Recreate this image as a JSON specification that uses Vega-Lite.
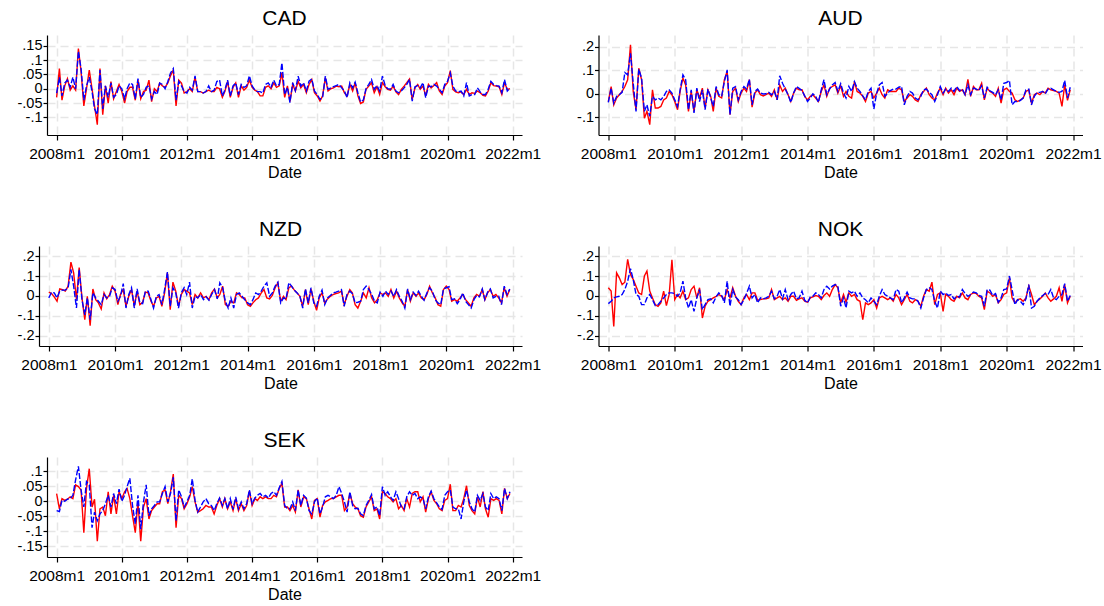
{
"$schema": "https://vega.github.io/schema/vega-lite/v6.json",
"background": "white",
"padding": {"left": 16, "top": 8, "right": 2, "bottom": 2},
"columns": 1,
"spacing": 38,
"datasets": {
"CAD": [
{"d":"2008-01","r":-0.03,"b":-0.015},{"d":"2008-02","r":0.07,"b":0.04},{"d":"2008-03","r":-0.04,"b":-0.025},{"d":"2008-04","r":0.01,"b":0.02},{"d":"2008-05","r":0.035,"b":0.03},{"d":"2008-06","r":-0.005,"b":0.005},{"d":"2008-07","r":0.01,"b":0.04},{"d":"2008-08","r":-0.005,"b":0},{"d":"2008-09","r":0.14,"b":0.13},{"d":"2008-10","r":0.06,"b":0.07},{"d":"2008-11","r":-0.06,"b":-0.04},{"d":"2008-12","r":0,"b":0.01},
{"d":"2009-01","r":0.065,"b":0.04},{"d":"2009-02","r":0,"b":-0.01},{"d":"2009-03","r":-0.06,"b":-0.07},{"d":"2009-04","r":-0.125,"b":-0.09},{"d":"2009-05","r":0.07,"b":0.065},{"d":"2009-06","r":-0.09,"b":-0.07},{"d":"2009-07","r":0.01,"b":0.01},{"d":"2009-08","r":-0.05,"b":-0.03},{"d":"2009-09","r":0.025,"b":0.02},{"d":"2009-10","r":-0.035,"b":-0.03},{"d":"2009-11","r":-0.01,"b":-0.02},{"d":"2009-12","r":0.015,"b":0.01},
{"d":"2010-01","r":-0.01,"b":0},{"d":"2010-02","r":-0.05,"b":-0.035},{"d":"2010-03","r":-0.01,"b":0},{"d":"2010-04","r":0.005,"b":0.02},{"d":"2010-05","r":0.005,"b":0.015},{"d":"2010-06","r":-0.04,"b":-0.035},{"d":"2010-07","r":0.03,"b":0.035},{"d":"2010-08","r":-0.035,"b":-0.03},{"d":"2010-09","r":-0.01,"b":-0.02},{"d":"2010-10","r":-0.005,"b":0.005},{"d":"2010-11","r":0.03,"b":0.01},{"d":"2010-12","r":-0.045,"b":-0.035},
{"d":"2011-01","r":0,"b":-0.01},{"d":"2011-02","r":-0.01,"b":-0.02},{"d":"2011-03","r":0.02,"b":0.02},{"d":"2011-04","r":0.01,"b":0.015},{"d":"2011-05","r":0.005,"b":0},{"d":"2011-06","r":0.02,"b":0.025},{"d":"2011-07","r":0.045,"b":0.055},{"d":"2011-08","r":0.065,"b":0.07},{"d":"2011-09","r":-0.06,"b":-0.04},{"d":"2011-10","r":0.03,"b":0.025},{"d":"2011-11","r":0.02,"b":0.01},{"d":"2011-12","r":-0.015,"b":-0.01},
{"d":"2012-01","r":-0.01,"b":-0.015},{"d":"2012-02","r":0,"b":0.005},{"d":"2012-03","r":-0.01,"b":-0.005},{"d":"2012-04","r":0.04,"b":0.045},{"d":"2012-05","r":-0.01,"b":-0.01},{"d":"2012-06","r":-0.01,"b":-0.01},{"d":"2012-07","r":-0.015,"b":-0.015},{"d":"2012-08","r":-0.01,"b":-0.01},{"d":"2012-09","r":-0.005,"b":0.01},{"d":"2012-10","r":-0.01,"b":-0.01},{"d":"2012-11","r":-0.01,"b":-0.005},{"d":"2012-12","r":0.005,"b":0.025},
{"d":"2013-01","r":0,"b":0.03},{"d":"2013-02","r":-0.03,"b":-0.025},{"d":"2013-03","r":-0.01,"b":-0.005},{"d":"2013-04","r":0.025,"b":0.03},{"d":"2013-05","r":-0.03,"b":-0.025},{"d":"2013-06","r":0.005,"b":0.01},{"d":"2013-07","r":0.02,"b":0.02},{"d":"2013-08","r":-0.03,"b":-0.02},{"d":"2013-09","r":0.01,"b":0.015},{"d":"2013-10","r":-0.005,"b":0.005},{"d":"2013-11","r":0.005,"b":0.01},{"d":"2013-12","r":0.03,"b":0.045},
{"d":"2014-01","r":0.005,"b":0.01},{"d":"2014-02","r":-0.005,"b":-0.005},{"d":"2014-03","r":-0.01,"b":-0.01},{"d":"2014-04","r":-0.025,"b":-0.01},{"d":"2014-05","r":-0.025,"b":-0.015},{"d":"2014-06","r":0.005,"b":0.015},{"d":"2014-07","r":0.01,"b":0.02},{"d":"2014-08","r":0,"b":0.005},{"d":"2014-09","r":0.02,"b":0.03},{"d":"2014-10","r":0.005,"b":0.01},{"d":"2014-11","r":0.01,"b":0.015},{"d":"2014-12","r":0.055,"b":0.09},
{"d":"2015-01","r":-0.03,"b":-0.02},{"d":"2015-02","r":0.01,"b":0.005},{"d":"2015-03","r":-0.045,"b":-0.048},{"d":"2015-04","r":0.015,"b":0.021},{"d":"2015-05","r":-0.008,"b":-0.006},{"d":"2015-06","r":0.026,"b":0.044},{"d":"2015-07","r":0.003,"b":0.009},{"d":"2015-08","r":0.015,"b":0.021},{"d":"2015-09","r":-0.014,"b":-0.008},{"d":"2015-10","r":0.015,"b":0.026},{"d":"2015-11","r":0.032,"b":0.034},{"d":"2015-12","r":-0.014,"b":-0.008},
{"d":"2016-01","r":-0.025,"b":-0.02},{"d":"2016-02","r":-0.043,"b":-0.037},{"d":"2016-03","r":-0.025,"b":-0.031},{"d":"2016-04","r":0.038,"b":0.044},{"d":"2016-05","r":-0.008,"b":-0.002},{"d":"2016-06","r":0,"b":0.003},{"d":"2016-07","r":0.003,"b":0.007},{"d":"2016-08","r":0.009,"b":0.011},{"d":"2016-09","r":0.007,"b":0.015},{"d":"2016-10","r":0.009,"b":0.003},{"d":"2016-11","r":-0.014,"b":-0.008},{"d":"2016-12","r":-0.025,"b":-0.031},
{"d":"2017-01","r":0.015,"b":0.021},{"d":"2017-02","r":-0.008,"b":0.003},{"d":"2017-03","r":0.021,"b":0.023},{"d":"2017-04","r":-0.025,"b":-0.014},{"d":"2017-05","r":-0.051,"b":-0.046},{"d":"2017-06","r":-0.046,"b":-0.039},{"d":"2017-07","r":-0.002,"b":0},{"d":"2017-08","r":0.009,"b":0.015},{"d":"2017-09","r":0.021,"b":0.032},{"d":"2017-10","r":-0.014,"b":-0.002},{"d":"2017-11","r":0.007,"b":0.011},{"d":"2017-12","r":-0.02,"b":-0.008},
{"d":"2018-01","r":0.021,"b":0.044},{"d":"2018-02","r":0.007,"b":0.011},{"d":"2018-03","r":-0.002,"b":0},{"d":"2018-04","r":-0.005,"b":-0.002},{"d":"2018-05","r":0.009,"b":0.015},{"d":"2018-06","r":-0.011,"b":-0.008},{"d":"2018-07","r":-0.02,"b":-0.014},{"d":"2018-08","r":-0.002,"b":-0.008},{"d":"2018-09","r":0.009,"b":0.003},{"d":"2018-10","r":0.021,"b":0.015},{"d":"2018-11","r":0.034,"b":0.032},{"d":"2018-12","r":-0.037,"b":-0.043},
{"d":"2019-01","r":0.003,"b":0.007},{"d":"2019-02","r":0.015,"b":0.011},{"d":"2019-03","r":-0.002,"b":0.003},{"d":"2019-04","r":0.009,"b":0.021},{"d":"2019-05","r":-0.025,"b":-0.031},{"d":"2019-06","r":0.015,"b":0.009},{"d":"2019-07","r":0.003,"b":0.007},{"d":"2019-08","r":0.011,"b":0.015},{"d":"2019-09","r":0.021,"b":0.009},{"d":"2019-10","r":-0.008,"b":-0.002},{"d":"2019-11","r":-0.02,"b":-0.014},{"d":"2019-12","r":0.009,"b":0.015},
{"d":"2020-01","r":0.021,"b":0.026},{"d":"2020-02","r":0.063,"b":0.055},{"d":"2020-03","r":-0.002,"b":0.009},{"d":"2020-04","r":-0.011,"b":-0.008},{"d":"2020-05","r":-0.014,"b":-0.011},{"d":"2020-06","r":-0.011,"b":-0.008},{"d":"2020-07","r":-0.02,"b":-0.025},{"d":"2020-08","r":-0.002,"b":0.021},{"d":"2020-09","r":-0.02,"b":-0.025},{"d":"2020-10","r":-0.014,"b":-0.02},{"d":"2020-11","r":-0.016,"b":-0.02},{"d":"2020-12","r":-0.008,"b":0.003},
{"d":"2021-01","r":-0.014,"b":-0.011},{"d":"2021-02","r":-0.023,"b":-0.02},{"d":"2021-03","r":-0.025,"b":-0.02},{"d":"2021-04","r":-0.008,"b":-0.002},{"d":"2021-05","r":0.021,"b":0.026},{"d":"2021-06","r":0.011,"b":0.015},{"d":"2021-07","r":0.009,"b":0.011},{"d":"2021-08","r":0.007,"b":0.009},{"d":"2021-09","r":-0.02,"b":-0.014},{"d":"2021-10","r":0.021,"b":0.032},{"d":"2021-11","r":-0.002,"b":-0.008},{"d":"2021-12","r":0,"b":0.003}
],
"AUD": [
{"d":"2008-01","r":-0.033,"b":-0.037},{"d":"2008-02","r":0.031,"b":0.024},{"d":"2008-03","r":-0.047,"b":-0.04},{"d":"2008-04","r":-0.018,"b":-0.011},{"d":"2008-05","r":-0.004,"b":-0.004},{"d":"2008-06","r":0.01,"b":0.006},{"d":"2008-07","r":0.031,"b":0.091},{"d":"2008-08","r":0.06,"b":0.081},{"d":"2008-09","r":0.209,"b":0.173},{"d":"2008-10","r":0.01,"b":0.045},{"d":"2008-11","r":-0.068,"b":-0.075},{"d":"2008-12","r":0.109,"b":0.105},
{"d":"2009-01","r":0.06,"b":0.067},{"d":"2009-02","r":-0.104,"b":-0.075},{"d":"2009-03","r":-0.075,"b":-0.047},{"d":"2009-04","r":-0.132,"b":-0.096},{"d":"2009-05","r":0.017,"b":-0.011},{"d":"2009-06","r":-0.061,"b":-0.026},{"d":"2009-07","r":-0.061,"b":-0.018},{"d":"2009-08","r":-0.054,"b":-0.026},{"d":"2009-09","r":-0.026,"b":-0.011},{"d":"2009-10","r":-0.018,"b":0.01},{"d":"2009-11","r":0.01,"b":0.017},{"d":"2009-12","r":-0.004,"b":0.003},
{"d":"2010-01","r":-0.033,"b":-0.026},{"d":"2010-02","r":-0.068,"b":-0.054},{"d":"2010-03","r":0.01,"b":0.017},{"d":"2010-04","r":0.067,"b":0.081},{"d":"2010-05","r":0.038,"b":0.06},{"d":"2010-06","r":-0.075,"b":-0.068},{"d":"2010-07","r":0.01,"b":0.017},{"d":"2010-08","r":-0.075,"b":-0.082},{"d":"2010-09","r":0.017,"b":0.024},{"d":"2010-10","r":-0.018,"b":-0.033},{"d":"2010-11","r":0.024,"b":0.017},{"d":"2010-12","r":-0.061,"b":-0.068},
{"d":"2011-01","r":0.017,"b":0.02},{"d":"2011-02","r":-0.011,"b":-0.018},{"d":"2011-03","r":-0.075,"b":-0.054},{"d":"2011-04","r":0.024,"b":0.031},{"d":"2011-05","r":-0.011,"b":-0.004},{"d":"2011-06","r":-0.018,"b":-0.011},{"d":"2011-07","r":0.06,"b":0.052},{"d":"2011-08","r":0.095,"b":0.102},{"d":"2011-09","r":-0.089,"b":-0.089},{"d":"2011-10","r":0.01,"b":0.024},{"d":"2011-11","r":0.024,"b":0.031},{"d":"2011-12","r":-0.033,"b":-0.026},
{"d":"2012-01","r":0.003,"b":0.01},{"d":"2012-02","r":0.024,"b":0.031},{"d":"2012-03","r":0.01,"b":0.02},{"d":"2012-04","r":0.06,"b":0.062},{"d":"2012-05","r":-0.057,"b":-0.047},{"d":"2012-06","r":0.003,"b":0.01},{"d":"2012-07","r":0.017,"b":0.02},{"d":"2012-08","r":-0.004,"b":0.003},{"d":"2012-09","r":-0.009,"b":-0.001},{"d":"2012-10","r":-0.004,"b":0},{"d":"2012-11","r":0.003,"b":0.006},{"d":"2012-12","r":-0.011,"b":-0.004},
{"d":"2013-01","r":0.017,"b":0.01},{"d":"2013-02","r":-0.026,"b":-0.026},{"d":"2013-03","r":0.038,"b":0.077},{"d":"2013-04","r":0.01,"b":0.045},{"d":"2013-05","r":0.024,"b":0.02},{"d":"2013-06","r":-0.004,"b":-0.004},{"d":"2013-07","r":-0.033,"b":-0.037},{"d":"2013-08","r":0.003,"b":0.003},{"d":"2013-09","r":0.024,"b":0.031},{"d":"2013-10","r":0.017,"b":0.023},{"d":"2013-11","r":0.017,"b":0.014},{"d":"2013-12","r":-0.011,"b":-0.009},
{"d":"2014-01","r":-0.026,"b":-0.033},{"d":"2014-02","r":-0.011,"b":-0.018},{"d":"2014-03","r":-0.004,"b":0},{"d":"2014-04","r":-0.018,"b":-0.011},{"d":"2014-05","r":-0.033,"b":-0.037},{"d":"2014-06","r":0.01,"b":0.017},{"d":"2014-07","r":0.038,"b":0.06},{"d":"2014-08","r":-0.011,"b":-0.004},{"d":"2014-09","r":0.024,"b":0.02},{"d":"2014-10","r":0.031,"b":0.038},{"d":"2014-11","r":0.038,"b":0.048},{"d":"2014-12","r":0.003,"b":0.01},
{"d":"2015-01","r":0.034,"b":0.043},{"d":"2015-02","r":-0.011,"b":0.003},{"d":"2015-03","r":0.01,"b":-0.018},{"d":"2015-04","r":-0.011,"b":0.031},{"d":"2015-05","r":-0.018,"b":0.01},{"d":"2015-06","r":0.052,"b":0.052},{"d":"2015-07","r":0.01,"b":0.024},{"d":"2015-08","r":0.003,"b":0.01},{"d":"2015-09","r":-0.011,"b":-0.009},{"d":"2015-10","r":-0.033,"b":-0.026},{"d":"2015-11","r":0.003,"b":0.01},{"d":"2015-12","r":0.01,"b":0.024},
{"d":"2016-01","r":-0.018,"b":-0.065},{"d":"2016-02","r":0.003,"b":0.003},{"d":"2016-03","r":0.024,"b":0.038},{"d":"2016-04","r":-0.004,"b":0.048},{"d":"2016-05","r":-0.018,"b":-0.011},{"d":"2016-06","r":0.017,"b":0.003},{"d":"2016-07","r":0.01,"b":0.014},{"d":"2016-08","r":0.01,"b":0.02},{"d":"2016-09","r":0.01,"b":0.02},{"d":"2016-10","r":0.024,"b":0.028},{"d":"2016-11","r":0.017,"b":0.031},{"d":"2016-12","r":-0.033,"b":-0.047},
{"d":"2017-01","r":-0.018,"b":-0.011},{"d":"2017-02","r":-0.004,"b":0.01},{"d":"2017-03","r":-0.011,"b":0.003},{"d":"2017-04","r":-0.026,"b":-0.018},{"d":"2017-05","r":-0.033,"b":-0.026},{"d":"2017-06","r":-0.004,"b":-0.011},{"d":"2017-07","r":0.01,"b":0.017},{"d":"2017-08","r":0.024,"b":0.02},{"d":"2017-09","r":-0.004,"b":0.006},{"d":"2017-10","r":-0.018,"b":-0.004},{"d":"2017-11","r":-0.026,"b":-0.033},{"d":"2017-12","r":0.003,"b":-0.004},
{"d":"2018-01","r":0.024,"b":0.031},{"d":"2018-02","r":-0.004,"b":0.003},{"d":"2018-03","r":0.024,"b":0.02},{"d":"2018-04","r":0.003,"b":0.01},{"d":"2018-05","r":0.017,"b":0.024},{"d":"2018-06","r":-0.004,"b":0.01},{"d":"2018-07","r":0.024,"b":0.031},{"d":"2018-08","r":0.01,"b":0.014},{"d":"2018-09","r":0.017,"b":0.02},{"d":"2018-10","r":-0.004,"b":-0.004},{"d":"2018-11","r":0.062,"b":0.038},{"d":"2018-12","r":-0.011,"b":-0.004},
{"d":"2019-01","r":0.031,"b":0.024},{"d":"2019-02","r":0.017,"b":0.02},{"d":"2019-03","r":0.017,"b":0.014},{"d":"2019-04","r":0.045,"b":0.034},{"d":"2019-05","r":-0.026,"b":-0.018},{"d":"2019-06","r":0.024,"b":0.028},{"d":"2019-07","r":0.01,"b":0.013},{"d":"2019-08","r":0.003,"b":0.006},{"d":"2019-09","r":-0.011,"b":-0.004},{"d":"2019-10","r":0.024,"b":0.017},{"d":"2019-11","r":-0.04,"b":-0.026},{"d":"2019-12","r":0.017,"b":0.045},
{"d":"2020-01","r":0.024,"b":0.048},{"d":"2020-02","r":0.01,"b":0.057},{"d":"2020-03","r":0.003,"b":-0.047},{"d":"2020-04","r":-0.026,"b":-0.033},{"d":"2020-05","r":-0.033,"b":-0.033},{"d":"2020-06","r":-0.026,"b":-0.028},{"d":"2020-07","r":-0.018,"b":-0.018},{"d":"2020-08","r":0.01,"b":0.017},{"d":"2020-09","r":0.017,"b":0.02},{"d":"2020-10","r":-0.04,"b":-0.047},{"d":"2020-11","r":-0.004,"b":-0.011},{"d":"2020-12","r":0.003,"b":0.006},
{"d":"2021-01","r":-0.004,"b":0.006},{"d":"2021-02","r":0.01,"b":0.01},{"d":"2021-03","r":0.003,"b":0},{"d":"2021-04","r":0.024,"b":0.02},{"d":"2021-05","r":0.017,"b":0.024},{"d":"2021-06","r":0.014,"b":0.017},{"d":"2021-07","r":0.01,"b":0.01},{"d":"2021-08","r":0.003,"b":0.006},{"d":"2021-09","r":-0.054,"b":0.01},{"d":"2021-10","r":0.038,"b":0.057},{"d":"2021-11","r":-0.028,"b":-0.018},{"d":"2021-12","r":0.017,"b":0.028}
],
"NZD": [
{"d":"2008-01","r":0.019,"b":-0.01},{"d":"2008-02","r":0.012,"b":0.019},{"d":"2008-03","r":-0.005,"b":0.015},{"d":"2008-04","r":-0.027,"b":-0.01},{"d":"2008-05","r":0.035,"b":0.024},{"d":"2008-06","r":0.032,"b":0.029},{"d":"2008-07","r":0.024,"b":0.029},{"d":"2008-08","r":0.049,"b":0.041},{"d":"2008-09","r":0.17,"b":0.133},{"d":"2008-10","r":0.116,"b":0.049},{"d":"2008-11","r":-0.019,"b":-0.061},{"d":"2008-12","r":0.142,"b":0.133},
{"d":"2009-01","r":-0.01,"b":-0.019},{"d":"2009-02","r":-0.12,"b":-0.095},{"d":"2009-03","r":-0.002,"b":-0.01},{"d":"2009-04","r":-0.15,"b":-0.12},{"d":"2009-05","r":0.035,"b":0.015},{"d":"2009-06","r":-0.019,"b":-0.01},{"d":"2009-07","r":-0.035,"b":-0.027},{"d":"2009-08","r":-0.066,"b":-0.044},{"d":"2009-09","r":0.015,"b":0.007},{"d":"2009-10","r":-0.015,"b":-0.01},{"d":"2009-11","r":0.007,"b":-0.002},{"d":"2009-12","r":0.049,"b":0.041},
{"d":"2010-01","r":0.024,"b":0.032},{"d":"2010-02","r":-0.044,"b":-0.027},{"d":"2010-03","r":0.007,"b":-0.002},{"d":"2010-04","r":0.032,"b":0.062},{"d":"2010-05","r":-0.052,"b":-0.061},{"d":"2010-06","r":-0.002,"b":0.007},{"d":"2010-07","r":0.032,"b":0.041},{"d":"2010-08","r":-0.052,"b":-0.061},{"d":"2010-09","r":0.024,"b":0.035},{"d":"2010-10","r":-0.044,"b":-0.035},{"d":"2010-11","r":-0.032,"b":-0.039},{"d":"2010-12","r":0.019,"b":0.024},
{"d":"2011-01","r":0.015,"b":0.024},{"d":"2011-02","r":-0.027,"b":-0.019},{"d":"2011-03","r":-0.052,"b":-0.061},{"d":"2011-04","r":-0.01,"b":-0.002},{"d":"2011-05","r":-0.002,"b":0.007},{"d":"2011-06","r":-0.052,"b":-0.044},{"d":"2011-07","r":0.015,"b":0.032},{"d":"2011-08","r":0.116,"b":0.12},{"d":"2011-09","r":-0.069,"b":-0.052},{"d":"2011-10","r":0.069,"b":0.041},{"d":"2011-11","r":0.024,"b":0.015},{"d":"2011-12","r":-0.052,"b":-0.061},
{"d":"2012-01","r":0.007,"b":0.015},{"d":"2012-02","r":0.032,"b":0.041},{"d":"2012-03","r":0.024,"b":0.007},{"d":"2012-04","r":0.015,"b":0.069},{"d":"2012-05","r":-0.044,"b":-0.061},{"d":"2012-06","r":0.007,"b":-0.002},{"d":"2012-07","r":-0.01,"b":-0.01},{"d":"2012-08","r":0.015,"b":0.007},{"d":"2012-09","r":-0.01,"b":-0.019},{"d":"2012-10","r":-0.002,"b":-0.005},{"d":"2012-11","r":-0.019,"b":-0.022},{"d":"2012-12","r":0.015,"b":0.007},
{"d":"2013-01","r":0.035,"b":0.032},{"d":"2013-02","r":-0.01,"b":-0.015},{"d":"2013-03","r":0.007,"b":0.066},{"d":"2013-04","r":0.049,"b":0.041},{"d":"2013-05","r":-0.044,"b":-0.027},{"d":"2013-06","r":-0.052,"b":-0.061},{"d":"2013-07","r":-0.027,"b":-0.01},{"d":"2013-08","r":-0.035,"b":-0.061},{"d":"2013-09","r":0.015,"b":0.007},{"d":"2013-10","r":0.007,"b":0.015},{"d":"2013-11","r":-0.01,"b":-0.002},{"d":"2013-12","r":-0.01,"b":-0.019},
{"d":"2014-01","r":-0.044,"b":-0.035},{"d":"2014-02","r":-0.052,"b":-0.044},{"d":"2014-03","r":-0.035,"b":-0.019},{"d":"2014-04","r":-0.019,"b":0.015},{"d":"2014-05","r":-0.01,"b":0.007},{"d":"2014-06","r":0.015,"b":0.024},{"d":"2014-07","r":0.032,"b":0.049},{"d":"2014-08","r":-0.01,"b":0.066},{"d":"2014-09","r":-0.015,"b":-0.002},{"d":"2014-10","r":0.002,"b":0.015},{"d":"2014-11","r":0.041,"b":0.049},{"d":"2014-12","r":0.066,"b":0.069},
{"d":"2015-01","r":-0.027,"b":-0.035},{"d":"2015-02","r":-0.002,"b":-0.01},{"d":"2015-03","r":-0.019,"b":-0.015},{"d":"2015-04","r":0.041,"b":0.066},{"d":"2015-05","r":0.049,"b":0.049},{"d":"2015-06","r":0.029,"b":0.029},{"d":"2015-07","r":0.015,"b":0.015},{"d":"2015-08","r":-0.002,"b":-0.002},{"d":"2015-09","r":-0.052,"b":-0.061},{"d":"2015-10","r":0.032,"b":0.035},{"d":"2015-11","r":-0.044,"b":-0.035},{"d":"2015-12","r":0.035,"b":0.041},
{"d":"2016-01","r":-0.027,"b":-0.035},{"d":"2016-02","r":-0.073,"b":-0.052},{"d":"2016-03","r":-0.01,"b":-0.002},{"d":"2016-04","r":0.015,"b":0.029},{"d":"2016-05","r":-0.035,"b":-0.044},{"d":"2016-06","r":-0.015,"b":-0.01},{"d":"2016-07","r":-0.002,"b":0.002},{"d":"2016-08","r":0.007,"b":0.015},{"d":"2016-09","r":0.012,"b":0.019},{"d":"2016-10","r":0.015,"b":0.024},{"d":"2016-11","r":0.024,"b":0.032},{"d":"2016-12","r":-0.044,"b":-0.052},
{"d":"2017-01","r":-0.002,"b":0.007},{"d":"2017-02","r":0.032,"b":0.024},{"d":"2017-03","r":0.015,"b":0.012},{"d":"2017-04","r":-0.044,"b":-0.035},{"d":"2017-05","r":-0.061,"b":-0.032},{"d":"2017-06","r":-0.027,"b":-0.027},{"d":"2017-07","r":0.015,"b":0.032},{"d":"2017-08","r":-0.01,"b":0.049},{"d":"2017-09","r":0.041,"b":0.032},{"d":"2017-10","r":-0.01,"b":0.007},{"d":"2017-11","r":-0.035,"b":-0.027},{"d":"2017-12","r":-0.019,"b":-0.035},
{"d":"2018-01","r":0.015,"b":0.019},{"d":"2018-02","r":0.007,"b":-0.002},{"d":"2018-03","r":0.015,"b":0.024},{"d":"2018-04","r":-0.002,"b":0.007},{"d":"2018-05","r":0.032,"b":0.024},{"d":"2018-06","r":-0.01,"b":-0.002},{"d":"2018-07","r":0.024,"b":0.032},{"d":"2018-08","r":-0.01,"b":-0.002},{"d":"2018-09","r":-0.035,"b":-0.027},{"d":"2018-10","r":-0.052,"b":-0.061},{"d":"2018-11","r":0.032,"b":0.035},{"d":"2018-12","r":-0.027,"b":-0.019},
{"d":"2019-01","r":0.015,"b":0.019},{"d":"2019-02","r":-0.002,"b":0.002},{"d":"2019-03","r":0.015,"b":0.024},{"d":"2019-04","r":-0.01,"b":-0.002},{"d":"2019-05","r":-0.019,"b":-0.022},{"d":"2019-06","r":0.007,"b":0.015},{"d":"2019-07","r":0.049,"b":0.041},{"d":"2019-08","r":0.015,"b":0.024},{"d":"2019-09","r":-0.01,"b":-0.019},{"d":"2019-10","r":-0.044,"b":-0.035},{"d":"2019-11","r":-0.052,"b":-0.044},{"d":"2019-12","r":0.032,"b":0.035},
{"d":"2020-01","r":0.049,"b":0.041},{"d":"2020-02","r":0.032,"b":0.046},{"d":"2020-03","r":-0.027,"b":-0.019},{"d":"2020-04","r":-0.019,"b":-0.015},{"d":"2020-05","r":-0.027,"b":-0.039},{"d":"2020-06","r":-0.01,"b":-0.019},{"d":"2020-07","r":0.007,"b":0.015},{"d":"2020-08","r":-0.019,"b":-0.027},{"d":"2020-09","r":-0.035,"b":-0.044},{"d":"2020-10","r":-0.052,"b":-0.061},{"d":"2020-11","r":-0.01,"b":-0.019},{"d":"2020-12","r":0.007,"b":0.002},
{"d":"2021-01","r":-0.002,"b":-0.005},{"d":"2021-02","r":0.032,"b":0.035},{"d":"2021-03","r":-0.019,"b":-0.019},{"d":"2021-04","r":0.015,"b":0.019},{"d":"2021-05","r":0.032,"b":0.035},{"d":"2021-06","r":-0.002,"b":-0.01},{"d":"2021-07","r":0.007,"b":-0.002},{"d":"2021-08","r":-0.01,"b":-0.002},{"d":"2021-09","r":-0.035,"b":-0.044},{"d":"2021-10","r":0.041,"b":0.049},{"d":"2021-11","r":-0.002,"b":0.007},{"d":"2021-12","r":0.032,"b":0.035}
],
"NOK": [
{"d":"2008-01","r":0.041,"b":-0.039},{"d":"2008-02","r":0.024,"b":-0.027},{"d":"2008-03","r":-0.154,"b":-0.01},{"d":"2008-04","r":0.116,"b":-0.005},{"d":"2008-05","r":0.091,"b":-0.002},{"d":"2008-06","r":0.057,"b":0.007},{"d":"2008-07","r":0.069,"b":0.032},{"d":"2008-08","r":0.184,"b":0.074},{"d":"2008-09","r":0.108,"b":0.137},{"d":"2008-10","r":0.083,"b":0.083},{"d":"2008-11","r":0.049,"b":0.007},{"d":"2008-12","r":0.015,"b":-0.002},
{"d":"2009-01","r":0.007,"b":-0.044},{"d":"2009-02","r":0.1,"b":-0.044},{"d":"2009-03","r":0.125,"b":-0.01},{"d":"2009-04","r":0.024,"b":0.007},{"d":"2009-05","r":-0.01,"b":-0.019},{"d":"2009-06","r":-0.044,"b":-0.049},{"d":"2009-07","r":-0.052,"b":-0.044},{"d":"2009-08","r":-0.035,"b":-0.027},{"d":"2009-09","r":0.024,"b":-0.01},{"d":"2009-10","r":-0.049,"b":0.007},{"d":"2009-11","r":0.007,"b":0.015},{"d":"2009-12","r":0.181,"b":0.015},
{"d":"2010-01","r":-0.019,"b":0.012},{"d":"2010-02","r":0.007,"b":-0.002},{"d":"2010-03","r":-0.01,"b":0.015},{"d":"2010-04","r":0.024,"b":0.074},{"d":"2010-05","r":-0.019,"b":-0.01},{"d":"2010-06","r":-0.01,"b":-0.061},{"d":"2010-07","r":0.032,"b":-0.019},{"d":"2010-08","r":0.049,"b":-0.078},{"d":"2010-09","r":-0.01,"b":-0.01},{"d":"2010-10","r":0.041,"b":0.032},{"d":"2010-11","r":-0.111,"b":-0.069},{"d":"2010-12","r":-0.052,"b":-0.044},
{"d":"2011-01","r":-0.027,"b":-0.019},{"d":"2011-02","r":-0.019,"b":-0.015},{"d":"2011-03","r":-0.01,"b":-0.035},{"d":"2011-04","r":-0.002,"b":-0.005},{"d":"2011-05","r":0.007,"b":0.015},{"d":"2011-06","r":-0.002,"b":0.002},{"d":"2011-07","r":-0.019,"b":-0.035},{"d":"2011-08","r":0.032,"b":0.074},{"d":"2011-09","r":-0.01,"b":-0.052},{"d":"2011-10","r":0.041,"b":0.032},{"d":"2011-11","r":-0.002,"b":-0.005},{"d":"2011-12","r":-0.027,"b":-0.019},
{"d":"2012-01","r":-0.044,"b":-0.044},{"d":"2012-02","r":-0.01,"b":-0.019},{"d":"2012-03","r":0.007,"b":0.012},{"d":"2012-04","r":-0.019,"b":0.049},{"d":"2012-05","r":0.015,"b":-0.01},{"d":"2012-06","r":0.015,"b":0.007},{"d":"2012-07","r":-0.022,"b":-0.035},{"d":"2012-08","r":-0.019,"b":-0.01},{"d":"2012-09","r":-0.015,"b":-0.015},{"d":"2012-10","r":-0.015,"b":-0.01},{"d":"2012-11","r":-0.01,"b":-0.002},{"d":"2012-12","r":0.032,"b":0.024},
{"d":"2013-01","r":-0.019,"b":-0.015},{"d":"2013-02","r":-0.01,"b":-0.002},{"d":"2013-03","r":-0.002,"b":0.032},{"d":"2013-04","r":-0.019,"b":-0.015},{"d":"2013-05","r":-0.01,"b":0.032},{"d":"2013-06","r":-0.027,"b":-0.019},{"d":"2013-07","r":-0.002,"b":0.007},{"d":"2013-08","r":-0.002,"b":0.024},{"d":"2013-09","r":-0.022,"b":-0.015},{"d":"2013-10","r":-0.015,"b":-0.01},{"d":"2013-11","r":-0.01,"b":0.024},{"d":"2013-12","r":-0.027,"b":-0.022},
{"d":"2014-01","r":-0.032,"b":-0.035},{"d":"2014-02","r":-0.01,"b":-0.005},{"d":"2014-03","r":-0.005,"b":-0.002},{"d":"2014-04","r":0.002,"b":0.015},{"d":"2014-05","r":-0.002,"b":0.007},{"d":"2014-06","r":-0.019,"b":-0.01},{"d":"2014-07","r":0.002,"b":0.032},{"d":"2014-08","r":0.015,"b":0.049},{"d":"2014-09","r":-0.002,"b":0.035},{"d":"2014-10","r":0.032,"b":0.049},{"d":"2014-11","r":0.057,"b":0.057},{"d":"2014-12","r":0.041,"b":0.049},
{"d":"2015-01","r":-0.035,"b":-0.052},{"d":"2015-02","r":0.007,"b":-0.01},{"d":"2015-03","r":-0.032,"b":-0.061},{"d":"2015-04","r":0.015,"b":0.024},{"d":"2015-05","r":-0.002,"b":0.015},{"d":"2015-06","r":0.007,"b":0.024},{"d":"2015-07","r":-0.019,"b":-0.002},{"d":"2015-08","r":-0.027,"b":0.015},{"d":"2015-09","r":-0.12,"b":-0.01},{"d":"2015-10","r":-0.035,"b":-0.019},{"d":"2015-11","r":-0.044,"b":-0.035},{"d":"2015-12","r":-0.035,"b":-0.01},
{"d":"2016-01","r":-0.019,"b":-0.027},{"d":"2016-02","r":-0.061,"b":-0.044},{"d":"2016-03","r":-0.01,"b":-0.002},{"d":"2016-04","r":-0.002,"b":0.032},{"d":"2016-05","r":-0.01,"b":0.007},{"d":"2016-06","r":-0.019,"b":-0.002},{"d":"2016-07","r":-0.01,"b":-0.01},{"d":"2016-08","r":-0.027,"b":-0.019},{"d":"2016-09","r":0.007,"b":0.032},{"d":"2016-10","r":-0.01,"b":0.024},{"d":"2016-11","r":-0.044,"b":-0.035},{"d":"2016-12","r":-0.019,"b":-0.01},
{"d":"2017-01","r":0.007,"b":0.019},{"d":"2017-02","r":-0.027,"b":-0.01},{"d":"2017-03","r":-0.035,"b":-0.015},{"d":"2017-04","r":-0.019,"b":-0.015},{"d":"2017-05","r":-0.027,"b":-0.027},{"d":"2017-06","r":-0.052,"b":-0.061},{"d":"2017-07","r":-0.002,"b":-0.01},{"d":"2017-08","r":0.032,"b":0.032},{"d":"2017-09","r":0.024,"b":0.041},{"d":"2017-10","r":0.069,"b":0.032},{"d":"2017-11","r":-0.044,"b":-0.027},{"d":"2017-12","r":0.007,"b":-0.061},
{"d":"2018-01","r":0.015,"b":0.024},{"d":"2018-02","r":-0.078,"b":0.007},{"d":"2018-03","r":0.007,"b":0.015},{"d":"2018-04","r":-0.002,"b":0.002},{"d":"2018-05","r":-0.019,"b":0.007},{"d":"2018-06","r":-0.027,"b":-0.015},{"d":"2018-07","r":-0.002,"b":-0.002},{"d":"2018-08","r":-0.01,"b":-0.005},{"d":"2018-09","r":0.015,"b":0.032},{"d":"2018-10","r":-0.01,"b":0.012},{"d":"2018-11","r":-0.019,"b":-0.002},{"d":"2018-12","r":0.007,"b":0.007},
{"d":"2019-01","r":0.015,"b":0.019},{"d":"2019-02","r":0.012,"b":0.015},{"d":"2019-03","r":-0.002,"b":0.002},{"d":"2019-04","r":-0.01,"b":-0.002},{"d":"2019-05","r":-0.069,"b":-0.052},{"d":"2019-06","r":0.024,"b":0.032},{"d":"2019-07","r":0.015,"b":0.029},{"d":"2019-08","r":-0.002,"b":0.002},{"d":"2019-09","r":0.007,"b":0.012},{"d":"2019-10","r":-0.035,"b":-0.032},{"d":"2019-11","r":-0.019,"b":-0.01},{"d":"2019-12","r":0.007,"b":0.032},
{"d":"2020-01","r":0.015,"b":0.035},{"d":"2020-02","r":0.091,"b":0.1},{"d":"2020-03","r":-0.01,"b":0.032},{"d":"2020-04","r":-0.035,"b":-0.044},{"d":"2020-05","r":-0.019,"b":-0.019},{"d":"2020-06","r":-0.015,"b":-0.027},{"d":"2020-07","r":-0.027,"b":-0.044},{"d":"2020-08","r":-0.01,"b":-0.015},{"d":"2020-09","r":0.049,"b":0.057},{"d":"2020-10","r":0.007,"b":-0.061},{"d":"2020-11","r":-0.044,"b":-0.052},{"d":"2020-12","r":-0.027,"b":-0.027},
{"d":"2021-01","r":-0.015,"b":-0.01},{"d":"2021-02","r":-0.002,"b":0.002},{"d":"2021-03","r":0.015,"b":0.012},{"d":"2021-04","r":-0.01,"b":0.007},{"d":"2021-05","r":-0.027,"b":0.032},{"d":"2021-06","r":-0.015,"b":-0.01},{"d":"2021-07","r":-0.002,"b":-0.019},{"d":"2021-08","r":0.041,"b":-0.002},{"d":"2021-09","r":-0.027,"b":0.007},{"d":"2021-10","r":0.057,"b":0.062},{"d":"2021-11","r":-0.035,"b":-0.027},{"d":"2021-12","r":-0.002,"b":0.002}
],
"SEK": [
{"d":"2008-01","r":0.026,"b":-0.031},{"d":"2008-02","r":-0.025,"b":-0.034},{"d":"2008-03","r":0.009,"b":0.003},{"d":"2008-04","r":0.003,"b":0},{"d":"2008-05","r":0.007,"b":0.007},{"d":"2008-06","r":0.015,"b":0.009},{"d":"2008-07","r":0.009,"b":0.02},{"d":"2008-08","r":0.055,"b":0.072},{"d":"2008-09","r":0.049,"b":0.117},{"d":"2008-10","r":0.038,"b":0.038},{"d":"2008-11","r":-0.105,"b":-0.019},{"d":"2008-12","r":0.043,"b":0.066},
{"d":"2009-01","r":0.109,"b":0.055},{"d":"2009-02","r":-0.019,"b":-0.088},{"d":"2009-03","r":0.007,"b":-0.036},{"d":"2009-04","r":-0.133,"b":-0.065},{"d":"2009-05","r":-0.025,"b":-0.042},{"d":"2009-06","r":-0.019,"b":-0.031},{"d":"2009-07","r":-0.048,"b":-0.008},{"d":"2009-08","r":0.032,"b":0.02},{"d":"2009-09","r":-0.042,"b":-0.019},{"d":"2009-10","r":0.02,"b":0.026},{"d":"2009-11","r":-0.042,"b":-0.008},{"d":"2009-12","r":0.032,"b":0.041},
{"d":"2010-01","r":0.009,"b":0},{"d":"2010-02","r":0.032,"b":0.02},{"d":"2010-03","r":0.043,"b":0.049},{"d":"2010-04","r":0.009,"b":0.077},{"d":"2010-05","r":-0.048,"b":-0.014},{"d":"2010-06","r":-0.105,"b":-0.076},{"d":"2010-07","r":-0.002,"b":0.02},{"d":"2010-08","r":-0.133,"b":-0.093},{"d":"2010-09","r":-0.019,"b":-0.002},{"d":"2010-10","r":0.009,"b":0.055},{"d":"2010-11","r":-0.059,"b":-0.048},{"d":"2010-12","r":-0.031,"b":-0.025},
{"d":"2011-01","r":-0.019,"b":-0.014},{"d":"2011-02","r":-0.008,"b":-0.002},{"d":"2011-03","r":-0.008,"b":-0.002},{"d":"2011-04","r":0.032,"b":0.026},{"d":"2011-05","r":0.038,"b":0.049},{"d":"2011-06","r":-0.008,"b":-0.002},{"d":"2011-07","r":0.032,"b":0.026},{"d":"2011-08","r":0.091,"b":0.08},{"d":"2011-09","r":-0.088,"b":-0.065},{"d":"2011-10","r":0.02,"b":0.038},{"d":"2011-11","r":0.009,"b":0.015},{"d":"2011-12","r":-0.025,"b":-0.019},
{"d":"2012-01","r":-0.008,"b":-0.002},{"d":"2012-02","r":0.015,"b":0.02},{"d":"2012-03","r":0.049,"b":0.075},{"d":"2012-04","r":-0.002,"b":0.003},{"d":"2012-05","r":-0.036,"b":-0.036},{"d":"2012-06","r":-0.031,"b":-0.019},{"d":"2012-07","r":-0.025,"b":-0.002},{"d":"2012-08","r":-0.014,"b":0.009},{"d":"2012-09","r":-0.019,"b":-0.008},{"d":"2012-10","r":-0.019,"b":-0.014},{"d":"2012-11","r":-0.042,"b":-0.031},{"d":"2012-12","r":-0.014,"b":-0.008},
{"d":"2013-01","r":0.009,"b":0.011},{"d":"2013-02","r":-0.019,"b":-0.014},{"d":"2013-03","r":0.009,"b":0.009},{"d":"2013-04","r":-0.025,"b":-0.025},{"d":"2013-05","r":-0.002,"b":0.009},{"d":"2013-06","r":-0.031,"b":-0.027},{"d":"2013-07","r":0.009,"b":0.015},{"d":"2013-08","r":-0.031,"b":-0.025},{"d":"2013-09","r":-0.008,"b":-0.002},{"d":"2013-10","r":-0.031,"b":-0.025},{"d":"2013-11","r":-0.014,"b":-0.008},{"d":"2013-12","r":0.034,"b":0.038},
{"d":"2014-01","r":-0.014,"b":-0.008},{"d":"2014-02","r":0.009,"b":0.011},{"d":"2014-03","r":0.003,"b":0.02},{"d":"2014-04","r":0.015,"b":0.026},{"d":"2014-05","r":0.009,"b":0.015},{"d":"2014-06","r":0.015,"b":0.02},{"d":"2014-07","r":0.009,"b":0.011},{"d":"2014-08","r":0.009,"b":0.026},{"d":"2014-09","r":0.02,"b":0.032},{"d":"2014-10","r":0.015,"b":0.02},{"d":"2014-11","r":0.043,"b":0.045},{"d":"2014-12","r":0.06,"b":0.066},
{"d":"2015-01","r":-0.019,"b":-0.014},{"d":"2015-02","r":-0.019,"b":-0.025},{"d":"2015-03","r":-0.031,"b":-0.025},{"d":"2015-04","r":-0.014,"b":-0.002},{"d":"2015-05","r":-0.036,"b":-0.031},{"d":"2015-06","r":0.038,"b":0.038},{"d":"2015-07","r":-0.019,"b":-0.014},{"d":"2015-08","r":0.015,"b":0.02},{"d":"2015-09","r":0.009,"b":0.011},{"d":"2015-10","r":-0.025,"b":-0.031},{"d":"2015-11","r":-0.059,"b":-0.042},{"d":"2015-12","r":0.003,"b":-0.002},
{"d":"2016-01","r":0.009,"b":0.011},{"d":"2016-02","r":-0.053,"b":-0.042},{"d":"2016-03","r":-0.014,"b":-0.019},{"d":"2016-04","r":-0.002,"b":0.015},{"d":"2016-05","r":0.003,"b":0.02},{"d":"2016-06","r":0.009,"b":0.015},{"d":"2016-07","r":0.009,"b":0.009},{"d":"2016-08","r":0.015,"b":0.02},{"d":"2016-09","r":0.02,"b":0.049},{"d":"2016-10","r":0.02,"b":0.026},{"d":"2016-11","r":-0.031,"b":-0.002},{"d":"2016-12","r":-0.019,"b":-0.036},
{"d":"2017-01","r":0.026,"b":0.032},{"d":"2017-02","r":-0.008,"b":-0.014},{"d":"2017-03","r":-0.019,"b":-0.025},{"d":"2017-04","r":-0.025,"b":-0.023},{"d":"2017-05","r":-0.048,"b":-0.042},{"d":"2017-06","r":-0.053,"b":-0.048},{"d":"2017-07","r":-0.019,"b":-0.014},{"d":"2017-08","r":-0.002,"b":0.003},{"d":"2017-09","r":0.015,"b":0.023},{"d":"2017-10","r":-0.031,"b":-0.025},{"d":"2017-11","r":-0.025,"b":-0.019},{"d":"2017-12","r":-0.059,"b":-0.048},
{"d":"2018-01","r":0.032,"b":0.049},{"d":"2018-02","r":0.026,"b":0.02},{"d":"2018-03","r":0.015,"b":0.032},{"d":"2018-04","r":0.009,"b":0.015},{"d":"2018-05","r":-0.002,"b":0.003},{"d":"2018-06","r":0.009,"b":0.032},{"d":"2018-07","r":-0.025,"b":0.009},{"d":"2018-08","r":-0.014,"b":-0.019},{"d":"2018-09","r":-0.031,"b":-0.025},{"d":"2018-10","r":0.009,"b":0.015},{"d":"2018-11","r":-0.019,"b":0.032},{"d":"2018-12","r":0.026,"b":0.02},
{"d":"2019-01","r":0.032,"b":0.026},{"d":"2019-02","r":0.032,"b":0.009},{"d":"2019-03","r":-0.002,"b":0.015},{"d":"2019-04","r":0.015,"b":0.009},{"d":"2019-05","r":-0.036,"b":-0.025},{"d":"2019-06","r":0.009,"b":0.015},{"d":"2019-07","r":0.032,"b":0.034},{"d":"2019-08","r":0.003,"b":0.009},{"d":"2019-09","r":-0.008,"b":-0.005},{"d":"2019-10","r":-0.025,"b":-0.019},{"d":"2019-11","r":-0.031,"b":-0.027},{"d":"2019-12","r":0.003,"b":0.02},
{"d":"2020-01","r":0.009,"b":0.032},{"d":"2020-02","r":0.057,"b":0.038},{"d":"2020-03","r":-0.031,"b":-0.019},{"d":"2020-04","r":-0.031,"b":-0.025},{"d":"2020-05","r":-0.014,"b":-0.025},{"d":"2020-06","r":-0.019,"b":-0.059},{"d":"2020-07","r":0.009,"b":-0.002},{"d":"2020-08","r":0.052,"b":0.038},{"d":"2020-09","r":-0.014,"b":-0.002},{"d":"2020-10","r":-0.031,"b":-0.025},{"d":"2020-11","r":-0.042,"b":-0.036},{"d":"2020-12","r":0.015,"b":0.02},
{"d":"2021-01","r":-0.019,"b":0.003},{"d":"2021-02","r":0.032,"b":0.026},{"d":"2021-03","r":-0.025,"b":-0.019},{"d":"2021-04","r":-0.053,"b":-0.031},{"d":"2021-05","r":0.009,"b":0.026},{"d":"2021-06","r":0.003,"b":0.009},{"d":"2021-07","r":0.009,"b":0.015},{"d":"2021-08","r":0.003,"b":0.009},{"d":"2021-09","r":-0.042,"b":-0.031},{"d":"2021-10","r":0.043,"b":0.043},{"d":"2021-11","r":0.009,"b":0.009},{"d":"2021-12","r":0.026,"b":0.032}
]
},
"concat": [
{"spacing": 0, "hconcat": [
{"width": 1, "height": 1, "data": {"values": []}, "mark": "point"},
{"spacing": 35.5, "hconcat": [
{"title": "CAD", "width": 475, "height": 100, "data": {"name": "CAD"},
 "encoding": {"x": {"field": "d", "type": "temporal", "scale": {"type": "utc", "domain": [{"year": 2007, "month": 9, "date": 15, "utc": true}, {"year": 2022, "month": 4, "date": 15, "utc": true}]}, "axis": {"title": "Date", "values": [{"year": 2008, "month": 1, "date": 1, "utc": true}, {"year": 2010, "month": 1, "date": 1, "utc": true}, {"year": 2012, "month": 1, "date": 1, "utc": true}, {"year": 2014, "month": 1, "date": 1, "utc": true}, {"year": 2016, "month": 1, "date": 1, "utc": true}, {"year": 2018, "month": 1, "date": 1, "utc": true}, {"year": 2020, "month": 1, "date": 1, "utc": true}, {"year": 2022, "month": 1, "date": 1, "utc": true}]}}},
 "layer": [
  {"mark": {"type": "line", "color": "#ff0000", "strokeWidth": 1.4}, "encoding": {"y": {"field": "r", "type": "quantitative", "scale": {"domain": [-0.161, 0.187], "nice": false, "zero": false}, "axis": {"title": null, "tickCount": 20, "labelOverlap": false, "values": [-0.1, -0.05, 0, 0.05, 0.1, 0.15]}}}},
  {"mark": {"type": "line", "color": "#0000ff", "strokeWidth": 1.4, "strokeDash": [6, 2]}, "encoding": {"y": {"field": "b", "type": "quantitative", "axis": {"title": null, "tickCount": 20, "labelOverlap": false}}}}
 ]},
{"title": "AUD", "width": 484, "height": 100, "data": {"name": "AUD"},
 "encoding": {"x": {"field": "d", "type": "temporal", "scale": {"type": "utc", "domain": [{"year": 2007, "month": 9, "date": 15, "utc": true}, {"year": 2022, "month": 4, "date": 15, "utc": true}]}, "axis": {"title": "Date", "values": [{"year": 2008, "month": 1, "date": 1, "utc": true}, {"year": 2010, "month": 1, "date": 1, "utc": true}, {"year": 2012, "month": 1, "date": 1, "utc": true}, {"year": 2014, "month": 1, "date": 1, "utc": true}, {"year": 2016, "month": 1, "date": 1, "utc": true}, {"year": 2018, "month": 1, "date": 1, "utc": true}, {"year": 2020, "month": 1, "date": 1, "utc": true}, {"year": 2022, "month": 1, "date": 1, "utc": true}]}}},
 "layer": [
  {"mark": {"type": "line", "color": "#ff0000", "strokeWidth": 1.4}, "encoding": {"y": {"field": "r", "type": "quantitative", "scale": {"domain": [-0.176, 0.251], "nice": false, "zero": false}, "axis": {"title": null, "tickCount": 20, "labelOverlap": false, "values": [-0.1, 0, 0.1, 0.2]}}}},
  {"mark": {"type": "line", "color": "#0000ff", "strokeWidth": 1.4, "strokeDash": [6, 2]}, "encoding": {"y": {"field": "b", "type": "quantitative", "axis": {"title": null, "tickCount": 20, "labelOverlap": false}}}}
 ]}
]}
]},
{"spacing": 0, "hconcat": [
{"width": 1, "height": 1, "data": {"values": []}, "mark": "point"},
{"spacing": 35.5, "hconcat": [
{"title": "NZD", "width": 483, "height": 100, "data": {"name": "NZD"},
 "encoding": {"x": {"field": "d", "type": "temporal", "scale": {"type": "utc", "domain": [{"year": 2007, "month": 9, "date": 15, "utc": true}, {"year": 2022, "month": 4, "date": 15, "utc": true}]}, "axis": {"title": "Date", "values": [{"year": 2008, "month": 1, "date": 1, "utc": true}, {"year": 2010, "month": 1, "date": 1, "utc": true}, {"year": 2012, "month": 1, "date": 1, "utc": true}, {"year": 2014, "month": 1, "date": 1, "utc": true}, {"year": 2016, "month": 1, "date": 1, "utc": true}, {"year": 2018, "month": 1, "date": 1, "utc": true}, {"year": 2020, "month": 1, "date": 1, "utc": true}, {"year": 2022, "month": 1, "date": 1, "utc": true}]}}},
 "layer": [
  {"mark": {"type": "line", "color": "#ff0000", "strokeWidth": 1.4}, "encoding": {"y": {"field": "r", "type": "quantitative", "scale": {"domain": [-0.252, 0.251], "nice": false, "zero": false}, "axis": {"title": null, "tickCount": 20, "labelOverlap": false, "values": [-0.2, -0.1, 0, 0.1, 0.2]}}}},
  {"mark": {"type": "line", "color": "#0000ff", "strokeWidth": 1.4, "strokeDash": [6, 2]}, "encoding": {"y": {"field": "b", "type": "quantitative", "axis": {"title": null, "tickCount": 20, "labelOverlap": false}}}}
 ]},
{"title": "NOK", "width": 484, "height": 100, "data": {"name": "NOK"},
 "encoding": {"x": {"field": "d", "type": "temporal", "scale": {"type": "utc", "domain": [{"year": 2007, "month": 9, "date": 15, "utc": true}, {"year": 2022, "month": 4, "date": 15, "utc": true}]}, "axis": {"title": "Date", "values": [{"year": 2008, "month": 1, "date": 1, "utc": true}, {"year": 2010, "month": 1, "date": 1, "utc": true}, {"year": 2012, "month": 1, "date": 1, "utc": true}, {"year": 2014, "month": 1, "date": 1, "utc": true}, {"year": 2016, "month": 1, "date": 1, "utc": true}, {"year": 2018, "month": 1, "date": 1, "utc": true}, {"year": 2020, "month": 1, "date": 1, "utc": true}, {"year": 2022, "month": 1, "date": 1, "utc": true}]}}},
 "layer": [
  {"mark": {"type": "line", "color": "#ff0000", "strokeWidth": 1.4}, "encoding": {"y": {"field": "r", "type": "quantitative", "scale": {"domain": [-0.252, 0.251], "nice": false, "zero": false}, "axis": {"title": null, "tickCount": 20, "labelOverlap": false, "values": [-0.2, -0.1, 0, 0.1, 0.2]}}}},
  {"mark": {"type": "line", "color": "#0000ff", "strokeWidth": 1.4, "strokeDash": [6, 2]}, "encoding": {"y": {"field": "b", "type": "quantitative", "axis": {"title": null, "tickCount": 20, "labelOverlap": false}}}}
 ]}
]}
]},
{"spacing": 0, "hconcat": [
{"width": 1, "height": 1, "data": {"values": []}, "mark": "point"},
{"title": "SEK", "width": 475, "height": 100, "data": {"name": "SEK"},
 "encoding": {"x": {"field": "d", "type": "temporal", "scale": {"type": "utc", "domain": [{"year": 2007, "month": 9, "date": 15, "utc": true}, {"year": 2022, "month": 4, "date": 15, "utc": true}]}, "axis": {"title": "Date", "values": [{"year": 2008, "month": 1, "date": 1, "utc": true}, {"year": 2010, "month": 1, "date": 1, "utc": true}, {"year": 2012, "month": 1, "date": 1, "utc": true}, {"year": 2014, "month": 1, "date": 1, "utc": true}, {"year": 2016, "month": 1, "date": 1, "utc": true}, {"year": 2018, "month": 1, "date": 1, "utc": true}, {"year": 2020, "month": 1, "date": 1, "utc": true}, {"year": 2022, "month": 1, "date": 1, "utc": true}]}}},
 "layer": [
  {"mark": {"type": "line", "color": "#ff0000", "strokeWidth": 1.4}, "encoding": {"y": {"field": "r", "type": "quantitative", "scale": {"domain": [-0.186, 0.148], "nice": false, "zero": false}, "axis": {"title": null, "tickCount": 20, "labelOverlap": false, "values": [-0.15, -0.1, -0.05, 0, 0.05, 0.1]}}}},
  {"mark": {"type": "line", "color": "#0000ff", "strokeWidth": 1.4, "strokeDash": [6, 2]}, "encoding": {"y": {"field": "b", "type": "quantitative", "axis": {"title": null, "tickCount": 20, "labelOverlap": false}}}}
 ]}
]}
],
"config": {
 "view": {"stroke": null},
 "font": "Liberation Sans",
 "title": {"font": "Liberation Sans", "fontSize": 21, "fontWeight": "normal", "color": "#000000", "anchor": "middle", "frame": "group", "offset": 6},
 "axis": {"labelFont": "Liberation Sans", "titleFont": "Liberation Sans", "labelFontSize": 15.5, "titleFontSize": 16, "titleFontWeight": "normal", "labelColor": "#000000", "titleColor": "#000000", "domainColor": "#000000", "tickColor": "#000000", "domainWidth": 1.2, "tickWidth": 1.2, "tickSize": 5, "labelPadding": 2, "gridColor": "#e6e6e6", "gridWidth": 1.5, "gridDash": [8, 5], "labelOverlap": false},
 "axisX": {"labelFlush": false, "labelOverlap": false, "labelPadding": 6, "labelExpr": "utcFormat(datum.value, '%Y') + 'm1'", "titlePadding": 3},
 "axisY": {"labelExpr": "replace(datum.value + '', '0.', '.')", "labelOverlap": false, "tickSize": 4, "labelPadding": 1, "labelFontSize": 14.5}
}
}
